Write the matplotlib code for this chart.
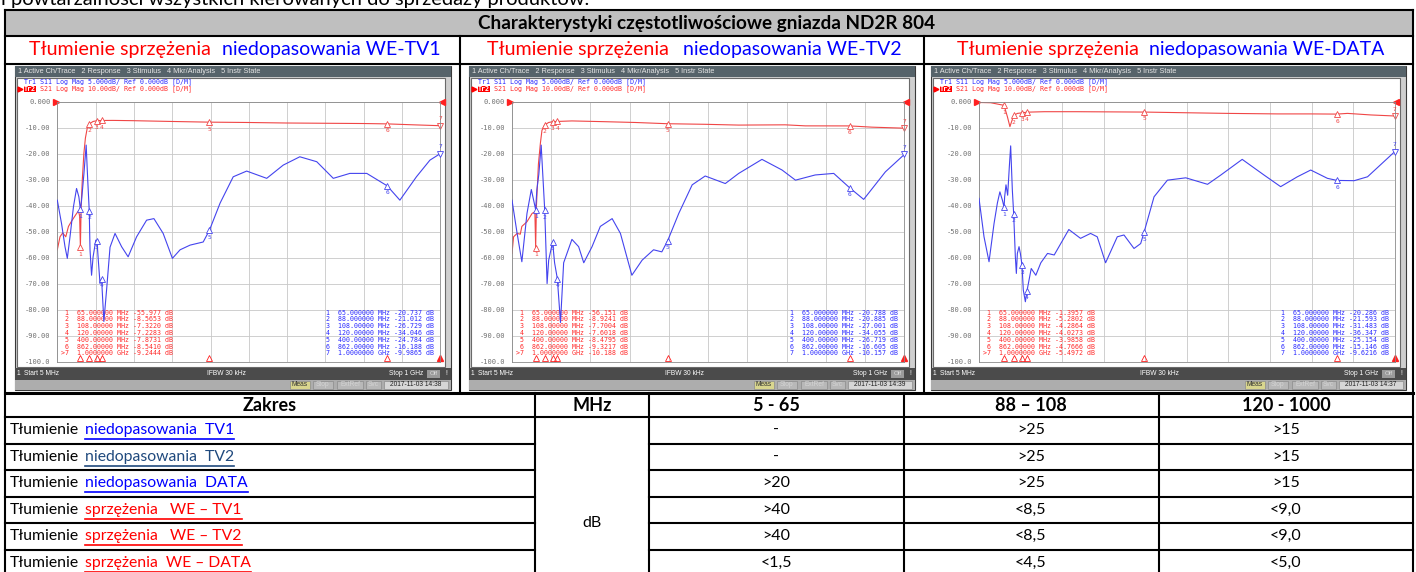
import numpy as np
import matplotlib
matplotlib.use("Agg")
import matplotlib.pyplot as plt
from matplotlib.patches import Rectangle
from matplotlib.transforms import blended_transform_factory

plt.rcParams['font.family'] = ['Lato', 'DejaVu Sans']

# ---- marker data ----
marker_freqs = [65, 88, 108, 120, 400, 862, 1000]  # MHz
marker_names = ['65.000000 MHz', '88.000000 MHz', '108.00000 MHz', '120.00000 MHz',
                '400.00000 MHz', '862.00000 MHz', '1.0000000 GHz']

tv1_s21_mk = [-55.977, -8.5653, -7.3220, -7.2283, -7.8731, -8.5410, -9.2444]
tv1_s11_mk = [-20.737, -21.012, -26.729, -34.046, -24.784, -16.188, -9.9865]
tv2_s21_mk = [-56.151, -8.9241, -7.7004, -7.6018, -8.4795, -9.3217, -10.188]
tv2_s11_mk = [-20.788, -20.885, -27.001, -34.055, -26.719, -16.605, -10.157]
dat_s21_mk = [-1.3957, -5.2802, -4.2864, -4.0273, -3.9858, -4.7666, -5.4972]
dat_s11_mk = [-20.286, -21.593, -31.483, -36.347, -25.154, -15.146, -9.6216]

# ---- traces (MHz, dB) ----
tv1_s21_f = [5, 12, 19, 27, 34, 42, 53, 60, 63, 65, 67, 70, 74, 78, 83, 88, 98, 108, 120,
             150, 200, 300, 400, 500, 600, 700, 800, 862, 930, 1000]
tv1_s21_db = [-57, -52, -50.5, -52, -48, -46, -43.5, -42, -44, -56, -40, -30, -20, -14, -10,
              -8.57, -7.6, -7.32, -7.23, -7.2, -7.3, -7.6, -7.87, -8.0, -8.2, -8.3, -8.4,
              -8.54, -8.9, -9.24]
tv1_s11_f = [5, 16, 25, 31, 38, 47, 55, 61, 65, 68, 74, 80, 84, 88, 90, 94, 98, 105, 108,
             112, 116, 120, 126, 133, 142, 155, 172, 189, 211, 237, 256, 280, 304, 324, 350,
             384, 400, 428, 462, 497, 549, 592, 635, 679, 722, 765, 809, 862, 895, 938, 973,
             1000]
tv1_s11_db = [-18.95, -23.45, -27.9, -30.15, -26, -20.2, -16.7, -18.3, -20.74, -19, -14,
              -8.35, -15, -21.01, -28.5, -33.4, -29.85, -26.65, -26.73, -31, -35, -34.05,
              -42.3, -36.25, -28, -25.35, -27.9, -29.85, -26, -22.8, -22.5, -25.35, -30.15,
              -28.5, -27.6, -27, -24.78, -19.5, -14.45, -13.35, -14.75, -12.2, -10.6, -11.55,
              -14.75, -13.8, -13.8, -16.19, -18.95, -14.45, -11.25, -9.99]

tv2_s21_f = [5, 9, 18, 26, 30, 43, 56, 63, 65, 67, 72, 77, 81, 88, 98, 108, 120, 157, 242,
             318, 400, 495, 580, 698, 749, 862, 918, 1000]
tv2_s21_db = [-58.4, -52, -50.7, -51, -48, -46.2, -43, -42.4, -56.15, -40, -24, -16, -11,
              -8.92, -8, -7.7, -7.6, -7.4, -7.7, -8, -8.48, -8.7, -9.0, -8.9, -9.3, -9.32,
              -9.8, -10.19]
tv2_s11_f = [5, 18, 30, 43, 54, 60, 65, 68, 73, 79, 88, 94, 98, 108, 113, 120, 128, 136,
             157, 174, 187, 208, 229, 259, 280, 309, 335, 364, 385, 400, 428, 462, 495, 546,
             580, 639, 690, 724, 774, 821, 862, 897, 952, 1000]
tv2_s11_db = [-18.95, -25.35, -30.8, -21.5, -16.9, -19, -20.79, -17, -14, -8.35, -20.89,
              -35, -30.5, -27, -31, -34.06, -42.5, -31, -26.5, -27.9, -31, -27.9, -24, -22.5,
              -25.35, -33.4, -30.5, -28.5, -28.9, -26.72, -21.5, -16, -14.3, -15.75, -13.8,
              -11.1, -13.15, -15.1, -14.1, -13.8, -16.61, -18.8, -13.5, -10.16]

dat_s21_f = [5, 33, 49, 65, 73, 79, 88, 97, 108, 120, 161, 240, 400, 480, 600, 719, 799,
             862, 887, 943, 1000]
dat_s21_db = [-0.3, -0.4, -0.9, -1.4, -5.8, -9.6, -5.28, -4.5, -4.29, -4.03, -3.85, -3.85,
              -3.99, -4.2, -4.5, -4.7, -4.7, -4.77, -4.5, -5.1, -5.5]
dat_s11_f = [5, 17, 29, 41, 49, 55, 61, 65, 66.4, 69.6, 73.6, 77.6, 80.8, 84.8, 88, 92,
             94.4, 96.8, 100.8, 104, 108, 111, 116, 120, 130, 141, 153, 169, 185, 220, 248,
             272, 288, 308, 336, 352, 376, 392, 400, 424, 456, 500, 552, 584, 635, 687, 727,
             767, 799, 839, 862, 903, 935, 1000]
dat_s11_db = [-18.6, -26, -30.8, -23.45, -19.5, -17.35, -18.95, -20.29, -18.3, -16, -18,
              -12.5, -8.5, -17, -21.59, -29.85, -33.05, -29.2, -27.9, -29.2, -31.48, -36.25,
              -38.5, -36.35, -32.1, -33.4, -31, -29.2, -29.5, -24.6, -26.3, -25.35, -26, -31,
              -26, -25.65, -28.25, -27.3, -25.15, -18.3, -15.1, -14.65, -15.9, -14.1, -11.1,
              -14.1, -16.35, -14.45, -13.15, -14.75, -15.15, -15.2, -14.45, -9.62]

# ---- lower table ----
head_cols = ['Zakres', 'MHz', '5 - 65', '88 – 108', '120 - 1000']
row_links = ['niedopasowania  TV1', 'niedopasowania  TV2', 'niedopasowania  DATA',
             'sprzężenia   WE – TV1', 'sprzężenia   WE – TV2', 'sprzężenia  WE – DATA']
row_colors = ['#0000ff', '#1f497d', '#0000ff', '#ff0000', '#ff0000', '#ff0000']
lim_5_65 = ['-', '-', '>20', '>40', '>40', '<1,5']
lim_88_108 = ['>25', '>25', '>25', '<8,5', '<8,5', '<4,5']
lim_120_1000 = ['>15', '>15', '>15', '<9,0', '<9,0', '<5,0']

RED = '#f04646'
BLUE = '#4444ee'
TRED = '#ff2a2a'
TBLUE = '#2a2aff'
MONO = 'DejaVu Sans Mono'
UI = 'Liberation Sans'

W, H = 1416, 572
fig = plt.figure(figsize=(W / 100, H / 100), dpi=100)
bg = fig.add_axes([0, 0, 1, 1])
bg.set_xlim(0, W)
bg.set_ylim(H, 0)
bg.axis('off')
rend = fig.canvas.get_renderer()


def px_axes(x0, y0, x1, y1):
    return fig.add_axes([x0 / W, 1 - y1 / H, (x1 - x0) / W, (y1 - y0) / H])


def hline(y, x0, x1, lw=1.5):
    bg.plot([x0, x1], [y, y], color='black', lw=lw, solid_capstyle='projecting')


def vline(x, y0, y1, lw=1.5):
    bg.plot([x, x], [y0, y1], color='black', lw=lw, solid_capstyle='projecting')


def fmt(v):
    d = 5 - len(str(int(abs(v))))
    return f"{v:.{d}f}"


# clipped line of the document text above the table
bg.text(1, 5.5, 'i powtarzalności wszystkich kierowanych do sprzedaży produktów.',
        fontsize=14.5, va='baseline')

# header of upper table
bg.add_patch(Rectangle((5, 10), 1408, 26, fc='#bfbfbf', ec='none'))
bg.text(707, 23.5, 'Charakterystyki częstotliwościowe gniazda ND2R 804', fontsize=13.6,
        fontweight='bold', ha='center', va='center')

panels = [
    dict(sx=(15, 451), px=(57.3, 440.3), rx=29, bx=222, name='WE-TV1', time='14:38',
         s21=(tv1_s21_f, tv1_s21_db), s11=(tv1_s11_f, tv1_s11_db),
         mk21=tv1_s21_mk, mk11=tv1_s11_mk),
    dict(sx=(469, 915), px=(512, 904.3), rx=487, bx=683, name='WE-TV2', time='14:39',
         s21=(tv2_s21_f, tv2_s21_db), s11=(tv2_s11_f, tv2_s11_db),
         mk21=tv2_s21_mk, mk11=tv2_s11_mk),
    dict(sx=(931, 1406), px=(979, 1394.7), rx=957, bx=1149, name='WE-DATA', time='14:37',
         s21=(dat_s21_f, dat_s21_db), s11=(dat_s11_f, dat_s11_db),
         mk21=dat_s21_mk, mk11=dat_s11_mk),
]

PY0, PY1 = 101.7, 361.5

for p in panels:
    sx0, sx1 = p['sx']
    px0, px1 = p['px']
    # subtitle
    bg.text(p['rx'], 50, 'Tłumienie sprzężenia', color='#ff0000', fontsize=14.1, va='center')
    bg.text(p['bx'], 50, 'niedopasowania ' + p['name'], color='#0000ff', fontsize=14,
            va='center')

    # screenshot chrome
    bg.add_patch(Rectangle((sx0, 65.5), sx1 - sx0, 324.5, fc='#cfcfcf', ec='#3a3a3a', lw=0.8))
    bg.add_patch(Rectangle((sx0, 65.5), sx1 - sx0, 11.5, fc='#56636a', ec='none'))
    bg.text(sx0 + 3, 71.5, '1 Active Ch/Trace   2 Response   3 Stimulus   '
            '4 Mkr/Analysis   5 Instr State', fontsize=5.3, color='#e6e6e6', va='center',
            family=UI)
    bg.add_patch(Rectangle((sx0 + 2, 77.5), sx1 - sx0 - 8, 289.5, fc='white',
                           ec='#6a6a6a', lw=0.8))
    bg.text(sx0 + 9, 82, 'Tr1 S11 Log Mag 5.000dB/ Ref 0.000dB [D/M]', family=MONO,
            fontsize=4.8, color=TBLUE, va='center')
    bg.text(sx0 + 25, 89, 'S21 Log Mag 10.00dB/ Ref 0.000dB [D/M]', family=MONO,
            fontsize=4.8, color=TRED, va='center')
    bg.text(sx0 + 9, 89, 'Tr2', family=MONO, fontsize=4.8, color='white', va='center',
            fontweight='bold', bbox=dict(fc='#ff0000', ec='none', pad=0.3))
    bg.plot(sx0 + 5, 89, marker='>', color='#ff0000', ms=3.5)

    # status bars
    bg.add_patch(Rectangle((sx0, 367.5), sx1 - sx0, 12, fc='#4b4b4b', ec='none'))
    bg.add_patch(Rectangle((sx0, 379.5), sx1 - sx0, 10.5, fc='#adadad', ec='none'))
    bg.text(sx0 + 2, 373.5, '1', fontsize=4.8, color='white', va='center', family=UI)
    bg.text(sx0 + 9, 373.5, 'Start 5 MHz', fontsize=4.8, color='white', va='center', family=UI)
    bg.text(sx0 + 0.44 * (sx1 - sx0), 373.5, 'IFBW 30 kHz', fontsize=4.8, color='white',
            va='center', family=UI)
    bg.text(sx1 - 28, 373.5, 'Stop 1 GHz', fontsize=4.8, color='white', va='center',
            ha='right', family=UI)
    bg.add_patch(Rectangle((sx1 - 24, 369.5), 13, 8, fc='#9a9a9a', ec='none'))
    bg.text(sx1 - 17.5, 373.5, 'Off', fontsize=4.5, color='#dcdcdc', va='center',
            ha='center', family=UI)
    bg.text(sx1 - 6, 373.5, '!', fontsize=4.8, color='white', va='center', family=UI)
    boxes = [('Meas', sx1 - 161, sx1 - 141, '#d9d68e', '#333333'),
             ('Stop', sx1 - 138, sx1 - 118, '#b8b8b8', '#d4d4d4'),
             ('ExtRef', sx1 - 114, sx1 - 88, '#b8b8b8', '#d4d4d4'),
             ('Svc', sx1 - 85, sx1 - 70, '#b8b8b8', '#d4d4d4'),
             ('2017-11-03 ' + p['time'], sx1 - 67, sx1 - 3, '#d6d6d6', '#222222')]
    for lab, b0, b1, fc, tc in boxes:
        bg.add_patch(Rectangle((b0, 380.5), b1 - b0, 8.5, fc=fc, ec='#8c8c8c', lw=0.5))
        bg.text((b0 + b1) / 2, 385, lab, fontsize=4.8, color=tc, ha='center', va='center',
                family=UI)

    # measurement grid
    ax = px_axes(px0, PY0, px1, PY1)
    ax.set_facecolor('none')
    ax.set_xlim(5, 1000)
    ax.set_ylim(-100, 0)
    ax.set_xticks(np.linspace(5, 1000, 11))
    yt = np.arange(-100, 1, 10)
    ax.set_yticks(yt)
    ylabs = ['-100.0' if v == -100 else ('0.000' if v == 0 else f'{v:.2f}') for v in yt]
    ax.set_yticklabels(ylabs, family=MONO, fontsize=5, color='#707070')
    ax.tick_params(length=0, labelbottom=False, pad=5)
    ax.grid(True, color='#c8c8c8', lw=0.6)
    for s in ax.spines.values():
        s.set_color('#8a8a8a')
        s.set_linewidth(0.6)

    ax2 = ax.twinx()
    ax2.set_ylim(-50, 0)
    ax2.set_yticks([])
    ax2.axis('off')

    ax2.plot(p['s11'][0], p['s11'][1], color=BLUE, lw=0.8)
    ax.plot(p['s21'][0], p['s21'][1], color=RED, lw=0.8)

    for i, f in enumerate(marker_freqs):
        last = i == 6
        for a, v, c in ((ax, p['mk21'][i], RED), (ax2, p['mk11'][i], BLUE)):
            a.plot(f, v, marker='v' if last else '^', ms=4, mfc='white', mec=c, mew=0.6,
                   clip_on=False)
            a.annotate(str(i + 1), (f, v), xytext=(0, 5 if last else -5),
                       textcoords='offset points', ha='center', va='center',
                       fontsize=4.5, family=MONO, color=c, annotation_clip=False)

    # stimulus markers on the bottom edge
    tb = blended_transform_factory(ax.transData, ax.transAxes)
    ax.plot(marker_freqs[:6], [0.014] * 6, transform=tb, ls='none', marker='^', ms=4.5,
            mfc='none', mec='#ff2020', mew=0.6, clip_on=False)
    ax.plot(marker_freqs[6:], [0.014], transform=tb, ls='none', marker='^', ms=4.5,
            color='#ff2020', clip_on=False)
    ax.plot([-0.004], [1], transform=ax.transAxes, marker='>', ms=4.5, color='#ff2020',
            clip_on=False)
    ax.plot([1.004], [1], transform=ax.transAxes, marker='<', ms=4.5, color='#ff2020',
            clip_on=False)

    # marker readouts
    for i in range(7):
        pre = '>7' if i == 6 else f'{i + 1:>2}'
        ax.text(px0 + 4, 312.7 + i * 6.77,
                f"{pre}  {marker_names[i]} {fmt(p['mk21'][i])} dB",
                transform=bg.transData, family=MONO, fontsize=4.8, color=TRED, va='center')
        ax.text(px1 - 118, 312.7 + i * 6.77,
                f"{i + 1:>2}  {marker_names[i]} {fmt(p['mk11'][i])} dB",
                transform=bg.transData, family=MONO, fontsize=4.8, color=TBLUE, va='center')

# ---- table grid ----
hline(10, 5, 1413)
hline(36, 5, 1413)
hline(64, 5, 1413)
vline(460, 36, 393)
vline(924, 36, 393)
hline(393, 5, 1413, lw=2.2)
hline(417, 5, 1413)
row_y = [417, 443.5, 470, 496.5, 523, 549.5, 576]
for y in row_y[1:-1]:
    hline(y, 5, 535)
    hline(y, 649, 1413)
for x in (535, 649, 904, 1159):
    vline(x, 393, 572)
vline(5, 10, 572)
vline(1413, 10, 572)

col_cx = [270, 592, 776, 1031, 1286]
for cx, lab in zip(col_cx, head_cols):
    bg.text(cx, 405.5, lab, fontsize=13, fontweight='bold', ha='center', va='center')

bg.text(592, 523, 'dB', fontsize=11.5, ha='center', va='center')
for i in range(6):
    yc = (row_y[i] + row_y[i + 1]) / 2
    t0 = bg.text(10, yc, 'Tłumienie', fontsize=11.3, va='center')
    x1 = t0.get_window_extent(rend).x1 + 6
    t1 = bg.text(x1, yc, row_links[i], fontsize=11.3, va='center', color=row_colors[i])
    bb = t1.get_window_extent(rend)
    bg.plot([bb.x0, bb.x1], [yc + 9, yc + 9], color=row_colors[i], lw=1.2)
    for cx, vals in zip(col_cx[2:], (lim_5_65, lim_88_108, lim_120_1000)):
        bg.text(cx, yc, vals[i], fontsize=11.5, ha='center', va='center')

fig.savefig('out.png', dpi=100)
